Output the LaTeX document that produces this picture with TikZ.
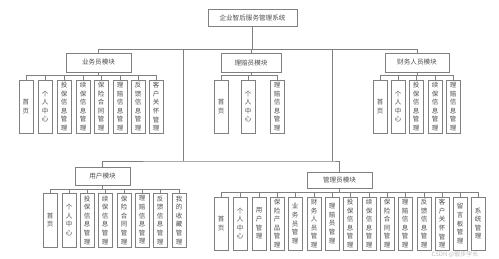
\documentclass[tikz,border=0pt]{standalone}
\usepackage{fontspec}
\newfontfamily\cjk{Noto Sans CJK SC}
\usetikzlibrary{arrows.meta}
\usetikzlibrary{positioning}

\definecolor{linegray}{gray}{0.5}
\definecolor{textgray}{gray}{0.3}

\tikzset{
  modbox/.style={draw=linegray, line width=0.8pt, text=textgray, inner sep=0pt,
    minimum height=19, font=\cjk\fontsize{6.6}{8}\selectfont},
  leafbox/.style={draw=linegray, line width=0.8pt, text=textgray, inner sep=0pt,
    minimum width=14, minimum height=53, align=center,
    font=\cjk\fontsize{6.5}{8.6}\selectfont},
  link/.style={draw=linegray, line width=0.8pt}
}

\begin{document}
\begin{tikzpicture}[x=1pt, y=-1pt]
        \useasboundingbox (0,0) rectangle (499,259);
        % system and modules
        \node [modbox, minimum width=89, minimum height=17] (sys) at (252.5,18) {企业智后服务管理系统};
        \node [modbox, minimum width=65] (bus) at (98.5,62.5) {业务员模块};
        \node [modbox, minimum width=60] (clm) at (251,63) {理赔员模块};
        \node [modbox, minimum width=64] (fin) at (417,62.5) {财务人员模块};
        \node [modbox, minimum width=55, minimum height=18] (usr) at (102.5,176) {用户模块};
        \node [modbox, minimum width=65, minimum height=16] (adm) at (339.5,180) {管理员模块};

        \coordinate (top) at (252.5,49);
        \coordinate (l1) at (183,49);
        \coordinate (l2) at (183,161);
        \coordinate (r1) at (332,49);
        \coordinate (r2) at (332,161);
        \draw [link] (sys.south) -- (top);
        \draw [link] (bus.north) |- (fin.north |- top) -- (fin.north);
        \draw [link] (clm.north) -- (clm.north |- top);
        \draw [link] (l1) -- (l2);
        \draw [link] (r1) -- (r2);
        \draw [link] (usr.north) |- (l2) -- (r2) -| (adm.north);

        % business module
        \coordinate (busbar) at (98.5,75);
        \draw [link] (bus.south) -- (busbar);
        \foreach \x/\t [count=\i] in {26/首\\页, 45/个\\人\\中\\心, 64/投\\保\\信\\息\\管\\理,
            83/续\\保\\信\\息\\管\\理, 101/保\\险\\合\\同\\管\\理, 120/理\\赔\\信\\息\\管\\理,
            138/反\\馈\\信\\息\\管\\理, 156/客\\户\\关\\怀\\管\\理} {
          \node [leafbox] (b\i) at (\x,106.5) {\t};
          \draw [link] (busbar) -| (b\i.north);
        }

        % claims module
        \coordinate (clmbar) at (251,75);
        \draw [link] (clm.south) -- (clmbar);
        \foreach \x/\t [count=\i] in {221/首\\页, 248/个\\人\\中\\心, 277/理\\赔\\信\\息\\管\\理} {
          \node [leafbox] (c\i) at (\x,106.5) {\t};
          \draw [link] (clmbar) -| (c\i.north);
        }

        % finance module
        \coordinate (finbar) at (417,75);
        \draw [link] (fin.south) -- (finbar);
        \foreach \x/\t [count=\i] in {380/首\\页, 398/个\\人\\中\\心, 416/投\\保\\信\\息\\管\\理,
            435/续\\保\\信\\息\\管\\理, 453/理\\赔\\信\\息\\管\\理} {
          \node [leafbox] (f\i) at (\x,106.5) {\t};
          \draw [link] (finbar) -| (f\i.north);
        }

        % user module
        \coordinate (usrbar) at (102.5,189);
        \draw [link] (usr.south) -- (usrbar);
        \foreach \x/\t [count=\i] in {50/首\\页, 69/个\\人\\中\\心, 87/投\\保\\信\\息\\管\\理,
            105/续\\保\\信\\息\\管\\理, 124/保\\险\\合\\同\\管\\理, 142/理\\赔\\信\\息\\管\\理,
            160/反\\馈\\信\\息\\管\\理, 179/我\\的\\收\\藏\\管\\理} {
          \node [leafbox, minimum height=54] (u\i) at (\x,220) {\t};
          \draw [link] (usrbar) -| (u\i.north);
        }

        % admin module
        \coordinate (admbar) at (339.5,192);
        \draw [link] (adm.south) -- (admbar);
        \foreach \x/\t [count=\i] in {221/首\\页, 240/个\\人\\中\\心, 259/用\\户\\管\\理,
            277/保\\险\\产\\品\\管\\理, 295/业\\务\\员\\管\\理, 314/财\\务\\人\\员\\管\\理,
            332/理\\赔\\员\\管\\理, 350/投\\保\\信\\息\\管\\理, 369/续\\保\\信\\息\\管\\理,
            387/保\\险\\合\\同\\管\\理, 405/理\\赔\\信\\息\\管\\理, 424/反\\馈\\信\\息\\管\\理,
            442/客\\户\\关\\怀\\管\\理, 460/留\\言\\板\\管\\理, 478/系\\统\\管\\理} {
          \node [leafbox] (a\i) at (\x,223.5) {\t};
          \draw [link] (admbar) -| (a\i.north);
        }

        \node [text=black!25, inner sep=0pt, font=\cjk\fontsize{6}{7}\selectfont] (mark) at (455,254.5) {CSDN @靓步学长};
      \end{tikzpicture}
\end{document}
